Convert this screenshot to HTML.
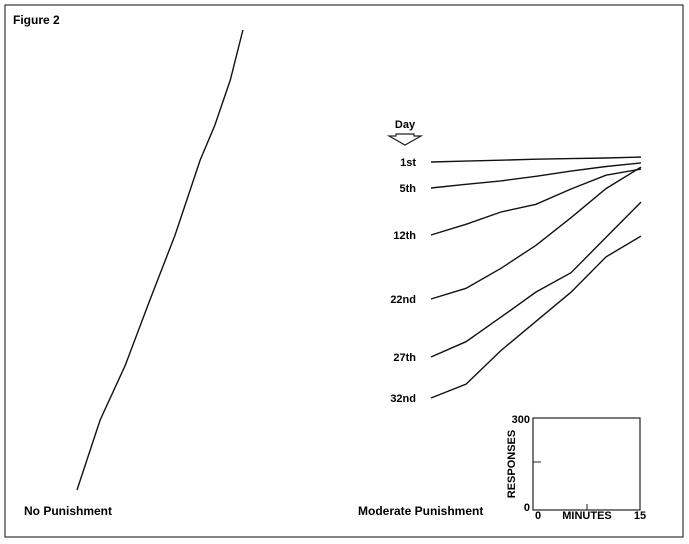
<!DOCTYPE html>
<html><head><meta charset="utf-8"><style>
body{margin:0;background:#fff;}
svg{display:block;font-family:"Liberation Sans",sans-serif;}
</style></head><body>
<svg id="fig" width="689" height="544">
<rect x="5" y="5" width="678" height="532" fill="none" stroke="#333" stroke-width="1.2"/>
<text x="13" y="24" font-size="12" font-weight="bold">Figure  2</text>
<text x="24" y="515" font-size="12" font-weight="bold">No Punishment</text>
<text x="358" y="515" font-size="12" font-weight="bold">Moderate Punishment</text>
<text x="405" y="128" font-size="11" font-weight="bold" text-anchor="middle">Day</text>
<path d="M396,134 L414,134 L414,136 L421,136 L405,145 L389,136 L396,136 Z" fill="#fff" stroke="#222" stroke-width="1.2"/>
<g id="curves" fill="none" stroke="#111" stroke-width="1.4"></g>
<g id="labels" font-size="11" font-weight="bold" text-anchor="end"></g>
<g>
<rect x="533" y="418" width="107" height="92" fill="none" stroke="#222" stroke-width="1.2"/>
<line x1="533" y1="462" x2="541" y2="462" stroke="#222"/>
<line x1="587" y1="510" x2="587" y2="504" stroke="#222"/>
<text x="530" y="423" font-size="11" font-weight="bold" text-anchor="end">300</text>
<text x="530" y="511" font-size="11" font-weight="bold" text-anchor="end">0</text>
<text x="538" y="519" font-size="11" font-weight="bold" text-anchor="middle">0</text>
<text x="640" y="519" font-size="11" font-weight="bold" text-anchor="middle">15</text>
<text x="587" y="519" font-size="11" font-weight="bold" text-anchor="middle">MINUTES</text>
<text transform="translate(515,464) rotate(-90)" font-size="11" font-weight="bold" text-anchor="middle">RESPONSES</text>
</g>
</svg>
<script>
const minutes = [0,5,10,15,20,25,30];
const dayLabels = ["1st","5th","12th","22nd","27th","32nd"];
const startY = [162,188,235,299,357,398];
const day1 = [0,3,6,9,11,13,16];
const day5 = [0,12,23,38,55,70,82];
const day12 = [0,35,75,100,150,195,215];
const day22 = [0,35,100,175,265,360,430];
const day27 = [0,50,130,212,275,390,505];
const day32 = [0,45,155,250,345,460,528];
const noPunishMin = [0,3.3,6.9,10.4,14,17.6,19.7,21.9,23.7];
const noPunishResp = [0,228,407,619,831,1076,1190,1337,1500];

const xPx = m => 431 + m*7;
const yPx = (y0,r) => y0 - r*92/300;
const svgNS = "http://www.w3.org/2000/svg";
const cg = document.getElementById('curves');
const lg = document.getElementById('labels');
const series = [day1,day5,day12,day22,day27,day32];
series.forEach((s,i)=>{
  let d = s.map((r,j)=>(j?'L':'M')+xPx(minutes[j]).toFixed(1)+','+yPx(startY[i],r).toFixed(1)).join(' ');
  const p = document.createElementNS(svgNS,'path');
  p.setAttribute('d',d);
  
  
  cg.appendChild(p);
  const t = document.createElementNS(svgNS,'text');
  t.setAttribute('x', 416);
  t.setAttribute('y', startY[i]+4);
  t.textContent = dayLabels[i];
  
  
  lg.appendChild(t);
});
const bx = m => 77 + m*7;
const by = r => 490 - r*92/300;
const bp = document.createElementNS(svgNS,'path');
bp.setAttribute('d', noPunishResp.map((r,j)=>(j?'L':'M')+bx(noPunishMin[j]).toFixed(1)+','+by(r).toFixed(1)).join(' '));


cg.appendChild(bp);
</script>
</body></html>
